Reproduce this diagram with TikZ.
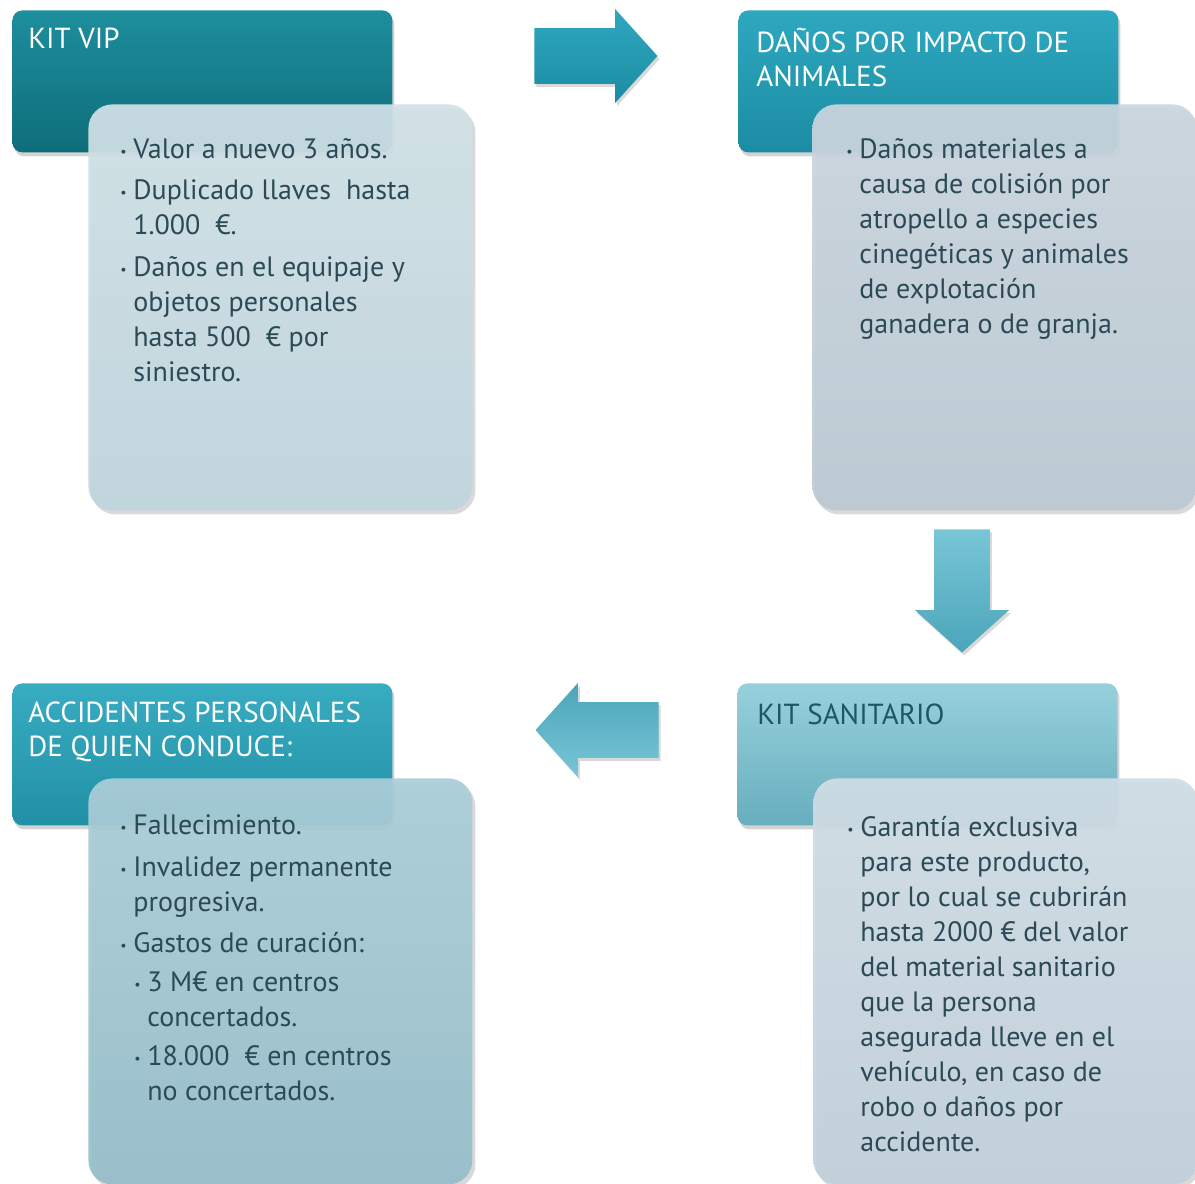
\documentclass[tikz,border=0pt]{standalone}
\usepackage{fontspec}
\setmainfont{PT Sans}
\usetikzlibrary{positioning,shapes.arrows,shadows}

\definecolor{vipA}{HTML}{1D8E9D}
\definecolor{vipB}{HTML}{0F6D7A}
\definecolor{danA}{HTML}{2EA8BF}
\definecolor{danB}{HTML}{1B8CA3}
\definecolor{sanA}{HTML}{97D0DC}
\definecolor{sanB}{HTML}{68AEBE}
\definecolor{accA}{HTML}{38ACC1}
\definecolor{accB}{HTML}{2290A7}
\definecolor{txtbody}{HTML}{2C4A56}
\definecolor{txtdark}{HTML}{1D5767}

\newcommand{\bul}{\makebox[6.5pt][l]{\raisebox{0.15ex}{\scriptsize •}}}
\newcommand{\ind}{\hspace*{6.5pt}}
\newcommand{\subbul}{\hspace*{7pt}\makebox[6.5pt][l]{\raisebox{0.15ex}{\scriptsize •}}}
\newcommand{\subind}{\hspace*{13.5pt}}

\tikzset{
    hdr/.style={rectangle,rounded corners=5pt,minimum width=190pt,minimum height=71pt,
        anchor=north west,inner sep=0pt,
        drop shadow={opacity=0.35,shadow xshift=1pt,shadow yshift=-2pt}},
    bodybox/.style={rectangle,rounded corners=12pt,minimum width=192pt,minimum height=203pt,
        anchor=north west,inner sep=0pt,fill opacity=0.93,
        drop shadow={opacity=0.3,shadow xshift=1.5pt,shadow yshift=-2pt}},
    hdrtext/.style={anchor=north west,inner sep=0pt,align=left,text=white,
        font=\fontsize{14.5}{17}\selectfont},
    bodytext/.style={anchor=north west,inner sep=0pt,align=left,text=txtbody,
        font=\fontsize{14}{17.5}\selectfont},
    bigarrow/.style={single arrow,single arrow head extend=9.5pt,single arrow tip angle=96,
        minimum height=61.5pt,inner sep=0pt,text height=27.5pt,text depth=0pt,text width=0pt,
        anchor=tip,drop shadow={opacity=0.3,shadow xshift=1pt,shadow yshift=-1.5pt}}
}

\begin{document}
\begin{tikzpicture}[x=0.5pt,y=-0.5pt]
    \useasboundingbox (0,0) rectangle (1195,1184);

    % headers
    \node[hdr,top color=vipA,bottom color=vipB] (hdrVip) at (12,10) {};
    \node[hdr,top color=danA,bottom color=danB] (hdrDanos) at (738,10) {};
    \node[hdr,top color=sanA,bottom color=sanB] (hdrSan) at (737,683) {};
    \node[hdr,top color=accA,bottom color=accB] (hdrAcc) at (12,683) {};

    % bodies
    \node[bodybox,top color={rgb,255:red,208;green,225;blue,231},
        bottom color={rgb,255:red,192;green,213;blue,221}] (bodyVip) at (88,104) {};
    \node[bodybox,top color={rgb,255:red,202;green,214;blue,222},
        bottom color={rgb,255:red,188;green,201;blue,211}] (bodyDanos) at (812,104) {};
    \node[bodybox,top color={rgb,255:red,208;green,221;blue,229},
        bottom color={rgb,255:red,193;green,208;blue,218}] (bodySan) at (813,778) {};
    \node[bodybox,top color={rgb,255:red,170;green,206;blue,216},
        bottom color={rgb,255:red,150;green,190;blue,201}] (bodyAcc) at (88,778) {};

    % header labels
    \node[hdrtext] (tVip) at ([xshift=8pt,yshift=-9pt]hdrVip.north west) {KIT VIP};
    \node[hdrtext] (tDanos) at ([xshift=9pt,yshift=-9pt]hdrDanos.north west)
        {DAÑOS POR IMPACTO DE\\ANIMALES};
    \node[hdrtext,text=txtdark] (tSan) at ([xshift=10pt,yshift=-10pt]hdrSan.north west)
        {KIT SANITARIO};
    \node[hdrtext] (tAcc) at ([xshift=8pt,yshift=-9pt]hdrAcc.north west)
        {ACCIDENTES PERSONALES\\DE QUIEN CONDUCE:};

    % body texts
    \node[bodytext] (lVip) at ([xshift=16pt,yshift=-17pt]bodyVip.north west)
        {\bul Valor a nuevo 3 años.\\[3pt]
         \bul Duplicado llaves~~hasta\\
         \ind 1.000~~€.\\[3.5pt]
         \bul Daños en el equipaje y\\
         \ind objetos personales\\
         \ind hasta 500~~€ por\\
         \ind siniestro.};
    \node[bodytext] (lDanos) at ([xshift=17pt,yshift=-17pt]bodyDanos.north west)
        {\bul Daños materiales a\\
         \ind causa de colisión por\\
         \ind atropello a especies\\
         \ind cinegéticas y animales\\
         \ind de explotación\\
         \ind ganadera o de granja.};
    \node[bodytext] (lSan) at ([xshift=17pt,yshift=-19pt]bodySan.north west)
        {\bul Garantía exclusiva\\
         \ind para este producto,\\
         \ind por lo cual se cubrirán\\
         \ind hasta 2000 € del valor\\
         \ind del material sanitario\\
         \ind que la persona\\
         \ind asegurada lleve en el\\
         \ind vehículo, en caso de\\
         \ind robo o daños por\\
         \ind accidente.};
    \node[bodytext] (lAcc) at ([xshift=16pt,yshift=-18pt]bodyAcc.north west)
        {\bul Fallecimiento.\\[3.5pt]
         \bul Invalidez permanente\\
         \ind progresiva.\\[3pt]
         \bul Gastos de curación:\\[2pt]
         \subbul 3 M€ en centros\\
         \subind concertados.\\[2pt]
         \subbul 18.000~~€ en centros\\
         \subind no concertados.};

    % arrows between the boxes
    \node[bigarrow,top color=danA,bottom color=danB] (arrVipDanos) at (658,56) {};
    \node[bigarrow,rotate=-90,top color={rgb,255:red,120;green,198;blue,214},
        bottom color={rgb,255:red,75;green,165;blue,186}] (arrDanosSan) at (962,653) {};
    \node[bigarrow,rotate=180,top color={rgb,255:red,75;green,165;blue,186},
        bottom color={rgb,255:red,120;green,198;blue,214}] (arrSanAcc) at (535,730) {};
\end{tikzpicture}
\end{document}
